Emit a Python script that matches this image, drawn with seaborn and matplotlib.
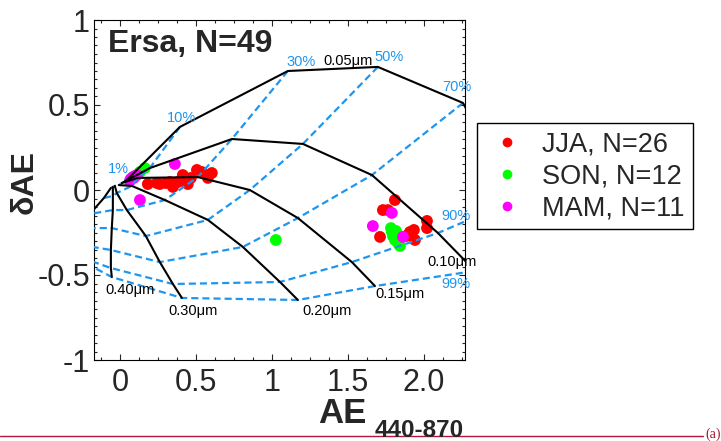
import numpy as np
import pandas as pd
import matplotlib
matplotlib.use("Agg")
import matplotlib.pyplot as plt
from matplotlib.ticker import MultipleLocator, FixedLocator, FixedFormatter
from matplotlib.lines import Line2D
import seaborn as sns

# ---- Seasonal observations: AE(440-870) and delta-AE ----
jja_ae = [1.809, 1.730, 1.763, 2.020, 2.020, 1.711, 1.908, 1.934, 1.941, 1.882,
          0.184, 0.243, 0.303, 0.349, 0.382, 0.414, 0.421, 0.447, 0.507, 0.539,
          0.579, 0.605, 0.362, 0.467, 0.329, 0.263]
jja_dae = [-0.059, -0.118, -0.118, -0.182, -0.224, -0.276, -0.247, -0.235, -0.294, -0.271,
           0.035, 0.041, 0.041, 0.018, 0.047, 0.088, 0.053, 0.035, 0.118, 0.106,
           0.071, 0.100, 0.041, 0.071, 0.047, 0.035]
son_ae = [0.164, 0.132, 1.026, 1.783, 1.789, 1.796, 1.809, 1.829, 1.842, 1.822, 1.803, 1.816]
son_dae = [0.129, 0.106, -0.294, -0.224, -0.247, -0.271, -0.294, -0.312, -0.329, -0.282, -0.259, -0.241]
mam_ae = [0.362, 0.132, 1.789, 1.664, 1.862, 0.066, 0.072, 0.086, 0.099, 0.112, 0.092]
mam_dae = [0.153, -0.059, -0.135, -0.212, -0.276, 0.053, 0.065, 0.076, 0.082, 0.088, 0.071]

seasons = ["JJA", "SON", "MAM"]
season_colors = ["#FF0000", "#00FF00", "#FF00FF"]

# ---- Classification grid: one row per fine-mode radius, columns are fine-mode fractions ----
fractions = ["1%", "10%", "30%", "50%", "70%", "90%", "99%"]
radii = ["0.05", "0.10", "0.15", "0.20", "0.30", "0.40", "0.50"]
ae_005 = [0.039, 0.395, 1.105, 1.697, 2.257, 2.599, 2.796]
dae_005 = [0.053, 0.371, 0.700, 0.724, 0.512, -0.059, -0.294]
ae_010 = [0.026, 0.197, 0.737, 1.204, 1.658, 2.092, 2.336]
dae_010 = [0.047, 0.129, 0.300, 0.271, 0.088, -0.253, -0.476]
ae_015 = [0.013, 0.118, 0.513, 0.855, 1.171, 1.526, 1.678]
dae_015 = [0.041, 0.071, 0.076, 0.000, -0.165, -0.424, -0.565]
ae_020 = [-0.007, 0.079, 0.296, 0.579, 0.809, 1.053, 1.171]
dae_020 = [0.029, 0.024, -0.059, -0.176, -0.335, -0.541, -0.647]
ae_030 = [-0.033, -0.020, 0.046, 0.171, 0.263, 0.349, 0.408]
dae_030 = [0.024, -0.018, -0.118, -0.271, -0.424, -0.553, -0.635]
ae_040 = [-0.046, -0.046, -0.046, -0.053, -0.059, -0.059, -0.053]
dae_040 = [0.018, -0.035, -0.118, -0.224, -0.353, -0.459, -0.512]
ae_050 = [-0.059, -0.105, -0.197, -0.250, -0.289, -0.303, -0.289]
dae_050 = [0.012, -0.047, -0.141, -0.224, -0.318, -0.382, -0.400]

xtick_vals = [0, 0.5, 1, 1.5, 2.0]
xtick_labels = ["0", "0.5", "1", "1.5", "2.0"]
ytick_vals = [-1, -0.5, 0, 0.5, 1]
ytick_labels = ["-1", "-0.5", "0", "0.5", "1"]

# ---- Tidy tables ----
obs = pd.concat([
    pd.DataFrame({"ae": jja_ae, "dae": jja_dae, "season": "JJA"}),
    pd.DataFrame({"ae": son_ae, "dae": son_dae, "season": "SON"}),
    pd.DataFrame({"ae": mam_ae, "dae": mam_dae, "season": "MAM"}),
], ignore_index=True)

grid_ae = np.array([ae_005, ae_010, ae_015, ae_020, ae_030, ae_040, ae_050])
grid_dae = np.array([dae_005, dae_010, dae_015, dae_020, dae_030, dae_040, dae_050])

sns.set_style("ticks")
plt.rcParams["font.family"] = ["Liberation Sans", "DejaVu Sans"]
plt.rcParams["axes.linewidth"] = 0.8

fig = plt.figure(figsize=(7.21, 4.41), dpi=100)
ax = fig.add_axes([94 / 721, 1 - 360 / 441, 371 / 721, 340 / 441])

BLUE = "#1E96F0"

# data points below the grid
sns.scatterplot(data=obs, x="ae", y="dae", hue="season", hue_order=seasons,
                palette=dict(zip(seasons, season_colors)), s=72, linewidth=0,
                edgecolor="none", legend=False, ax=ax, zorder=2)

# constant fine-mode fraction (blue dashed)
for j in range(len(fractions)):
    ax.plot(grid_ae[:, j], grid_dae[:, j], color=BLUE, lw=1.6,
            dashes=(3.2, 1.8), zorder=3, solid_capstyle="butt")
# constant fine-mode radius (black)
for i in range(len(radii)):
    ax.plot(grid_ae[i], grid_dae[i], color="black", lw=1.5, zorder=4)

# grid annotations
frac_labels = [("1%", -0.007, 0.124), ("10%", 0.408, 0.424), ("30%", 1.191, 0.753),
               ("50%", 1.77, 0.782), ("70%", 2.217, 0.606), ("90%", 2.21, -0.153),
               ("99%", 2.21, -0.553)]
for txt, x, y in frac_labels:
    ax.text(x, y, txt, color=BLUE, fontsize=10.5, ha="center", va="center",
            zorder=5, clip_on=False)
rad_labels = [("0.05", 1.5, 0.759), ("0.10", 2.184, -0.424), ("0.15", 1.842, -0.612),
              ("0.20", 1.362, -0.712), ("0.30", 0.480, -0.712), ("0.40", 0.066, -0.588)]
for txt, x, y in rad_labels:
    ax.text(x, y, txt + "\u03bcm", color="black", fontsize=10.5, ha="center",
            va="center", zorder=5, clip_on=False)

ax.text(0.038, 0.906, "Ersa, N=49", transform=ax.transAxes, fontsize=23,
        fontweight="bold", ha="left", va="baseline", zorder=6)

ax.set_xlim(-0.17, 2.27)
ax.set_ylim(-1, 1)
ax.xaxis.set_major_locator(FixedLocator(xtick_vals))
ax.xaxis.set_major_formatter(FixedFormatter(xtick_labels))
ax.yaxis.set_major_locator(FixedLocator(ytick_vals))
ax.yaxis.set_major_formatter(FixedFormatter(ytick_labels))
ax.xaxis.set_minor_locator(MultipleLocator(0.125))
ax.yaxis.set_minor_locator(MultipleLocator(0.05))
ax.tick_params(which="both", direction="in", top=True, right=True, width=0.8)
ax.tick_params(which="major", length=4, labelsize=22)
ax.tick_params(which="minor", length=2.2)
ax.tick_params(axis="x", which="major", pad=6)
ax.tick_params(axis="y", which="major", pad=3)
for s in ax.spines.values():
    s.set_visible(True)
    s.set_color("black")

ax.set_xlabel("")
ax.set_ylabel("\u03b4AE", fontsize=23, fontweight="bold")
ax.yaxis.set_label_coords(-0.146, 0.524)

fig.text(318 / 721, 1 - 423 / 441, "AE", fontsize=25, fontweight="bold",
         ha="left", va="baseline")
fig.text(375 / 721, 1 - 437 / 441, "440-870", fontsize=17.5, fontweight="bold",
         ha="left", va="baseline")

handles = [Line2D([], [], ls="none", marker="o", ms=7, mec="none", mfc=c)
           for c in season_colors]
labels = ["JJA, N=26", "SON, N=12", "MAM, N=11"]
leg = fig.legend(handles, labels, loc="upper left",
                 bbox_to_anchor=(477 / 721, 1 - 123 / 441), borderaxespad=0,
                 fontsize=19.5, frameon=True, fancybox=False, framealpha=1,
                 edgecolor="black", handlelength=1.6, handletextpad=0.5,
                 labelspacing=0.22, borderpad=0.3)
leg.get_frame().set_linewidth(1.0)

# footer rule and panel tag
fig.add_artist(Line2D([0, 703 / 721], [1 - 436 / 441] * 2, color="#B0173A", lw=1.0))
fig.text(705 / 721, 1 - 438 / 441, "(a)", fontsize=10, color="#A01530",
         family="Liberation Serif", ha="left", va="baseline")

fig.savefig("out.png", dpi=100)
